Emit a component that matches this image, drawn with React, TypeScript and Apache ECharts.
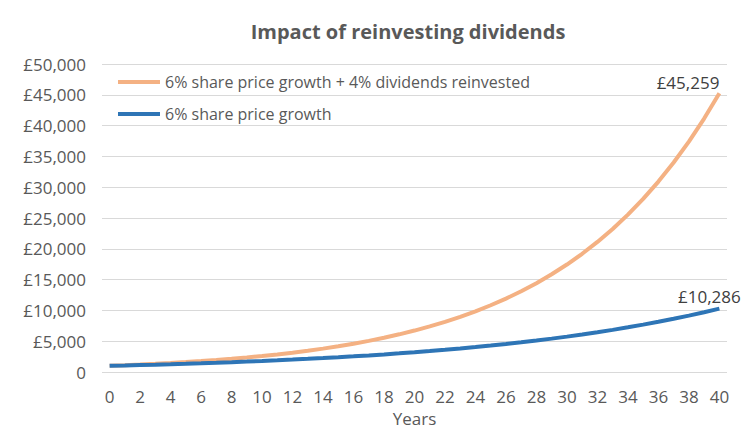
import React, { useEffect, useRef } from "react";
import * as echarts from "echarts";

const years: string[] = [
  "0","1","2","3","4","5","6","7","8","9","10","11","12","13","14","15","16","17","18","19","20",
  "21","22","23","24","25","26","27","28","29","30","31","32","33","34","35","36","37","38","39","40",
];

const withDividends: number[] = [
  1000, 1100, 1210, 1331, 1464, 1611, 1772, 1949, 2144, 2358, 2594,
  2853, 3138, 3452, 3797, 4177, 4595, 5054, 5560, 6116, 6727,
  7400, 8140, 8954, 9850, 10835, 11918, 13110, 14421, 15863, 17449,
  19194, 21114, 23225, 25548, 28102, 30913, 34004, 37404, 41145, 45259,
];

const priceOnly: number[] = [
  1000, 1060, 1124, 1191, 1262, 1338, 1419, 1504, 1594, 1689, 1791,
  1898, 2012, 2133, 2261, 2397, 2540, 2693, 2854, 3026, 3207,
  3400, 3604, 3820, 4049, 4292, 4549, 4822, 5112, 5418, 5743,
  6088, 6453, 6841, 7251, 7686, 8147, 8636, 9154, 9704, 10286,
];

const seriesNames: string[] = [
  "6% share price growth + 4% dividends reinvested",
  "6% share price growth",
];

const FONT = "'Open Sans', 'Noto Sans', sans-serif";
const TEXT = "#595959";

const fmt = (v: number) => (v === 0 ? "0" : "£" + Math.round(v).toLocaleString("en-GB"));

export default function App() {
  const ref = useRef<HTMLDivElement>(null);
  useEffect(() => {
    if (!ref.current) return;
    const chart = echarts.init(ref.current, undefined, { renderer: "svg" });
    const mk = (arr: number[], label: any) =>
      arr.map((v, i) =>
        i === arr.length - 1 ? { value: v, label: { show: true, ...label } } : v
      );
    chart.setOption({
      animation: false,
      textStyle: { fontFamily: FONT },
      title: {
        text: "Impact of reinvesting dividends",
        left: 403,
        top: 16,
        textAlign: "center",
        textStyle: { fontFamily: FONT, fontSize: 20, fontWeight: "bold", color: TEXT },
      },
      legend: {
        orient: "vertical",
        left: 113,
        top: 67,
        itemWidth: 42,
        itemHeight: 4,
        itemGap: 12,
        icon: "rect",
        data: seriesNames,
        textStyle: { fontFamily: FONT, fontSize: 16, color: TEXT, lineHeight: 20 },
      },
      grid: { left: 102, right: 24, top: 64, bottom: 64, containLabel: false },
      xAxis: {
        type: "category",
        data: years,
        boundaryGap: true,
        name: "Years",
        nameLocation: "middle",
        nameGap: 37,
        nameTextStyle: { fontFamily: FONT, fontSize: 17, color: TEXT },
        axisLine: { show: false },
        axisTick: { show: false },
        axisLabel: { interval: 1, fontFamily: FONT, fontSize: 17, color: TEXT, margin: 16 },
      },
      yAxis: {
        type: "value",
        min: 0,
        max: 50000,
        interval: 5000,
        axisLine: { show: false },
        axisTick: { show: false },
        splitLine: { lineStyle: { color: "#D9D9D9", width: 1 } },
        axisLabel: { formatter: fmt, fontFamily: FONT, fontSize: 17, color: TEXT, margin: 16 },
      },
      series: [
        {
          name: seriesNames[0],
          type: "line",
          data: mk(withDividends, {
            position: "top",
            align: "right",
            distance: 2,
            formatter: (p: any) => fmt(p.value),
            fontFamily: FONT,
            fontSize: 17,
            color: "#404040",
          }),
          showSymbol: true,
          symbol: "circle",
          symbolSize: 0,
          lineStyle: { color: "#F4B183", width: 4 },
          itemStyle: { color: "#F4B183" },
          z: 2,
        },
        {
          name: seriesNames[1],
          type: "line",
          data: mk(priceOnly, {
            position: "top",
            offset: [-10, 0],
            distance: 4,
            formatter: (p: any) => fmt(p.value),
            fontFamily: FONT,
            fontSize: 17,
            color: "#404040",
          }),
          showSymbol: true,
          symbol: "circle",
          symbolSize: 0,
          lineStyle: { color: "#2E75B6", width: 4 },
          itemStyle: { color: "#2E75B6" },
          z: 3,
        },
      ],
    });
    return () => chart.dispose();
  }, []);
  return (
    <div
      ref={ref}
      style={{ position: "absolute", left: 0, top: 0, width: 751, height: 436 }}
    />
  );
}
